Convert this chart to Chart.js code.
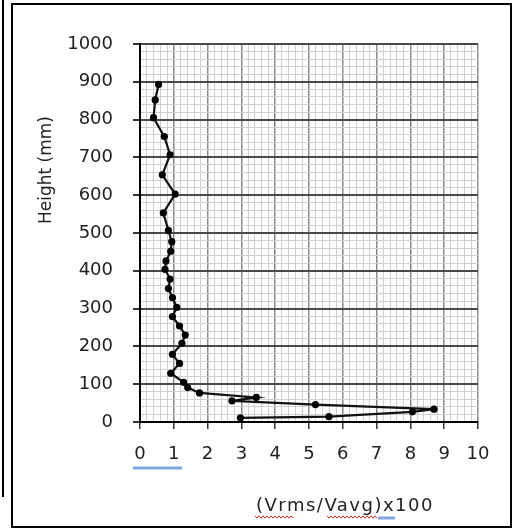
<!DOCTYPE html>
<html><head><meta charset="utf-8">
<script src="https://cdn.jsdelivr.net/npm/chart.js@4.4.1/dist/chart.umd.min.js"></script>
<style>
html,body{margin:0;padding:0;background:#fff;}
#wrap{position:relative;width:515px;height:530px;overflow:hidden;}
canvas{position:absolute;left:0;top:0;}
.l{position:absolute;background:#000;}
</style></head><body>
<div id="wrap">
<canvas id="c" width="515" height="530"></canvas>
<div class="l" style="left:2px;top:0;width:2px;height:497px"></div>
<div class="l" style="left:11px;top:3px;width:2px;height:525px"></div>
<div class="l" style="left:11px;top:3px;width:501px;height:2px"></div>
<div class="l" style="left:510px;top:3px;width:2px;height:525px"></div>
<div class="l" style="left:11px;top:526px;width:501px;height:2px"></div>
</div>
<script>
// ---- data ----
const heights = [893, 852, 805, 755, 707, 654, 603, 553, 507, 477, 452, 426, 404, 378, 353, 329, 303, 279, 254, 230, 208, 179, 155, 129, 105, 91, 77, 65, 56, 46, 34, 27, 14, 11];
const ratios  = [0.55, 0.45, 0.40, 0.72, 0.89, 0.66, 1.04, 0.69, 0.84, 0.94, 0.91, 0.77, 0.74, 0.89, 0.84, 0.96, 1.09, 0.96, 1.17, 1.34, 1.24, 0.96, 1.17, 0.91, 1.29, 1.41, 1.76, 3.44, 2.72, 5.19, 8.70, 8.06, 5.59, 2.97];
const xTickLabels = [0, 1, 2, 3, 4, 5, 6, 7, 8, 9, 10];
const yTickLabels = [0, 100, 200, 300, 400, 500, 600, 700, 800, 900, 1000];
const xMinorStep = 0.2;
const yMinorStep = 20;
const xTitle = '(Vrms/Vavg)x100';
const yTitle = 'Height (mm)';

const points = ratios.map((r, i) => ({ x: r, y: heights[i] }));

function minorTicks(list, step) {
  const lo = list[0], hi = list[list.length - 1];
  const n = Math.round((hi - lo) / step);
  const out = [];
  for (let i = 0; i <= n; i++) out.push({ value: Math.round((lo + i * step) * 1000) / 1000 });
  return out;
}
function labelOf(list, v) {
  const t = list.find(t => Math.abs(t - v) < 1e-6);
  return t === undefined ? '' : String(t);
}
function isMajor(list, ctx) {
  return ctx.tick && list.some(t => Math.abs(t - ctx.tick.value) < 1e-6);
}

const tickFont = { family: 'DejaVu Sans', size: 18 };

const decor = {
  id: 'decor',
  afterDraw(chart) {
    const c = chart.ctx;
    c.save();
    c.fillStyle = '#222';
    // y title
    c.font = '17px "DejaVu Sans"';
    c.textAlign = 'center';
    c.textBaseline = 'middle';
    c.save();
    c.translate(47, 170);
    c.rotate(-Math.PI / 2);
    c.fillText(yTitle, 0, 0);
    c.restore();
    // x title
    c.font = '18px "DejaVu Sans"';
    try { c.letterSpacing = '1.5px'; } catch (e) {}
    c.fillText(xTitle, 345, 506);
    try { c.letterSpacing = '0px'; } catch (e) {}
    // spell-check style marks
    c.strokeStyle = '#7fa7e0';
    c.lineWidth = 3;
    c.beginPath(); c.moveTo(133, 468); c.lineTo(182, 468); c.stroke();
    c.beginPath(); c.moveTo(378, 518); c.lineTo(395, 518); c.stroke();
    c.strokeStyle = '#d03030';
    c.lineWidth = 1;
    [[255, 293], [327, 377]].forEach(([a, b]) => {
      c.beginPath();
      for (let x = a, k = 0; x <= b; x += 2, k++) {
        const y = 517 + (k % 2 ? 1.2 : -1.2);
        if (x === a) c.moveTo(x, y); else c.lineTo(x, y);
      }
      c.stroke();
    });
    c.restore();
  }
};

new Chart(document.getElementById('c'), {
  type: 'scatter',
  data: {
    datasets: [{
      data: points,
      showLine: true,
      borderColor: '#111',
      borderWidth: 2.2,
      pointRadius: 3.6,
      pointBackgroundColor: '#000',
      pointBorderColor: '#000',
      pointBorderWidth: 0,
      tension: 0
    }]
  },
  options: {
    responsive: false,
    animation: false,
    events: [],
    layout: { padding: { top: 44, right: 37, left: 0, bottom: 0 } },
    plugins: { legend: { display: false }, tooltip: { enabled: false } },
    scales: {
      x: {
        type: 'linear',
        min: xTickLabels[0],
        max: xTickLabels[xTickLabels.length - 1],
        afterBuildTicks: s => { s.ticks = minorTicks(xTickLabels, xMinorStep); },
        ticks: {
          autoSkip: false, maxRotation: 0, minRotation: 0,
          callback: v => labelOf(xTickLabels, v),
          font: tickFont, color: '#222', padding: 15
        },
        grid: {
          color: ctx => isMajor(xTickLabels, ctx) ? '#8a8a8a' : '#cfcfcf',
          lineWidth: ctx => isMajor(xTickLabels, ctx) ? 1.5 : 1,
          tickColor: ctx => isMajor(xTickLabels, ctx) ? '#333' : 'rgba(0,0,0,0)',
          tickLength: 7
        },
        border: { color: '#000', width: 2 },
        afterFit: s => { s.height = 108; s.paddingLeft = 0; s.paddingRight = 0; }
      },
      y: {
        type: 'linear',
        min: yTickLabels[0],
        max: yTickLabels[yTickLabels.length - 1],
        afterBuildTicks: s => { s.ticks = minorTicks(yTickLabels, yMinorStep); },
        ticks: {
          autoSkip: false,
          callback: v => labelOf(yTickLabels, v),
          font: tickFont, color: '#222', padding: 20
        },
        grid: {
          color: ctx => isMajor(yTickLabels, ctx) ? '#4a4a4a' : '#cfcfcf',
          lineWidth: ctx => isMajor(yTickLabels, ctx) ? 2 : 1,
          tickColor: ctx => isMajor(yTickLabels, ctx) ? '#333' : 'rgba(0,0,0,0)',
          tickLength: 7
        },
        border: { color: '#000', width: 2 },
        afterFit: s => { s.width = 140; s.paddingTop = 0; s.paddingBottom = 0; }
      }
    }
  },
  plugins: [decor]
});
</script>
</body></html>
